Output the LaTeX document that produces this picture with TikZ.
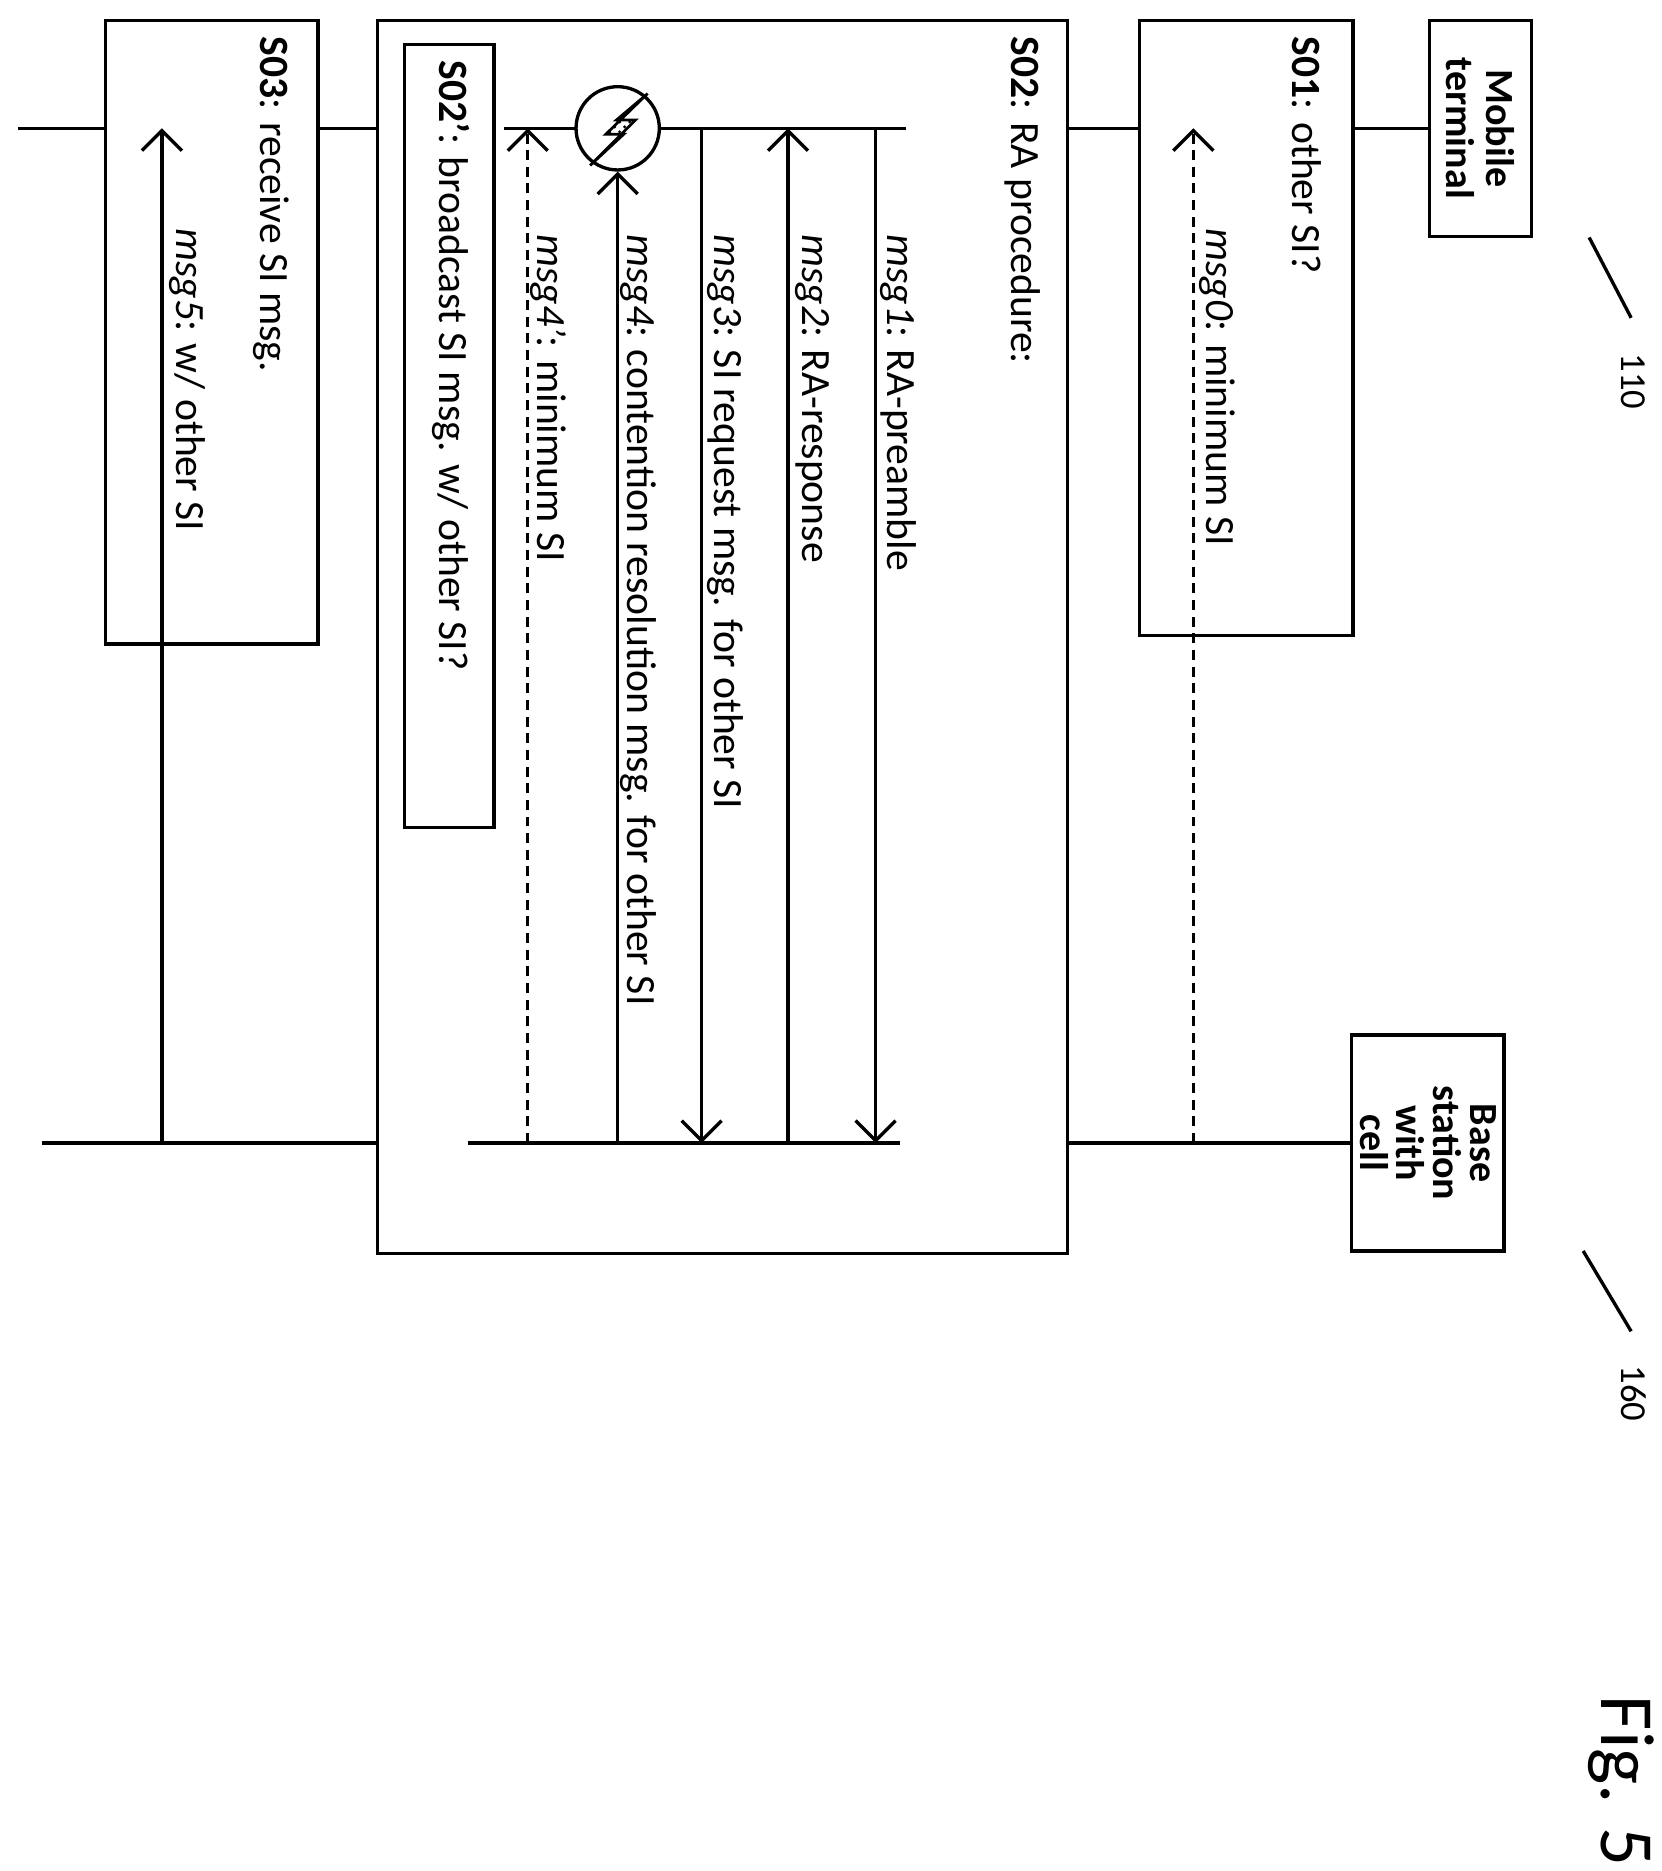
\documentclass[tikz,border=0pt]{standalone}
\usepackage{fontspec}
\setmainfont{Carlito}
\usetikzlibrary{arrows.meta,fit,patterns}
\begin{document}
\begin{tikzpicture}[x=0.36pt,y=-0.36pt,
  box/.style={draw,fill=white,line width=1pt,inner sep=0pt},
  ln/.style={line width=1pt},
  arr/.style={ln,-{Straight Barb[length=6pt,width=12pt,line width=1pt]}},
  dsh/.style={dashed,dash pattern=on 3pt off 2pt},
  lab/.style={rotate=-90,anchor=north west,inner sep=0pt,font=\fontsize{12.5}{14}\selectfont},
  ]
\useasboundingbox (0,0) rectangle (1385,1560);
% lifelines
\coordinate (m0) at (15,107); \coordinate (m1) at (1192,107);
\coordinate (b0) at (35,953); \coordinate (b1) at (1127,953);
\draw[ln] (m0) -- (m1);
\draw[ln] (b0) -- (b1);
% boxes
\node[box,fit={(88,17)(265,537)}] (s03) {};
\node[box,fit={(315,17)(890,1045)}] (s02) {};
\node[box,fit={(950,17)(1128,530)}] (s01) {};
\node[box,fit={(1192,17)(1277,197)}] (mt) {};
\node[box,fit={(1127,863)(1254,1043)}] (bs) {};
\node[rotate=-90,font=\bfseries\fontsize{12}{12}\selectfont,align=center] at (mt.center) {Mobile\\terminal};
\node[rotate=-90,font=\bfseries\fontsize{12}{11}\selectfont,align=center] at (bs.center) {Base\\station\\with\\cell};
\coordinate (l1a) at (1325,198); \coordinate (l1b) at (1360,265);
\coordinate (l2a) at (1320,1043); \coordinate (l2b) at (1360,1110);
\draw[ln] (l1a) -- (l1b); \draw[ln] (l2a) -- (l2b);
\node[rotate=-90,font=\fontsize{11}{12}\selectfont] at (1362,318) {110};
\node[rotate=-90,font=\fontsize{11}{12}\selectfont] at (1362,1162) {160};
% S01
\node[lab] at (1102,30) {\textbf{S01}: other SI?};
\coordinate (a0) at (995,953); \coordinate (a0e) at (995,107);
\draw[arr,dsh] (a0) -- (a0e);
\node[lab] at (1030,190) {\textit{msg0}: minimum SI};
% S02
\node[lab] at (868,30) {\textbf{S02}: RA procedure:};
\coordinate (in0) at (420,107); \coordinate (in1) at (755,107);
\coordinate (ib0) at (390,953); \coordinate (ib1) at (750,953);
\draw[ln] (in0) -- (in1); \draw[ln] (ib0) -- (ib1);
\coordinate (p1a) at (730,107); \coordinate (p1b) at (730,953);
\draw[arr] (p1a) -- (p1b);
\node[lab] at (765,195) {\textit{msg1}: RA-preamble};
\coordinate (p2a) at (657,953); \coordinate (p2b) at (657,107);
\draw[arr] (p2a) -- (p2b);
\node[lab] at (692,195) {\textit{msg2}: RA-response};
\coordinate (p3a) at (585,107); \coordinate (p3b) at (585,953);
\draw[arr] (p3a) -- (p3b);
\node[lab] at (620,195) {\textit{msg3}: SI request msg. for other SI};
\node[draw,circle,line width=1pt,fill=white,minimum size=25pt,inner sep=0pt] (fail) at (515,107) {};
\fill[pattern=crosshatch dots,draw,line width=0.8pt] (540,78) -- (505,112) -- (520,112) -- (492,138) -- (530,100) -- (514,100) -- cycle;
\coordinate (p4a) at (515,953);
\draw[arr] (p4a) -- (fail.south);
\node[lab] at (548,195) {\textit{msg4}: contention resolution msg. for other SI};
\coordinate (p5a) at (440,953); \coordinate (p5b) at (440,107);
\draw[arr,dsh] (p5a) -- (p5b);
\node[lab] at (473,195) {\textit{msg4'}: minimum SI};
\node[box,fit={(337,37)(412,690)}] (s02p) {};
\node[lab] at (392,50) {\textbf{S02'}: broadcast SI msg. w/ other SI?};
% S03
\node[lab] at (242,30) {\textbf{S03}: receive SI msg.};
\coordinate (p6a) at (135,953); \coordinate (p6b) at (135,107);
\draw[arr] (p6a) -- (p6b);
\node[lab] at (172,190) {\textit{msg5}: w/ other SI};
\node[rotate=-90,font=\fontsize{23}{25}\selectfont] at (1352,1485) {Fig. 5};
\end{tikzpicture}
\end{document}
